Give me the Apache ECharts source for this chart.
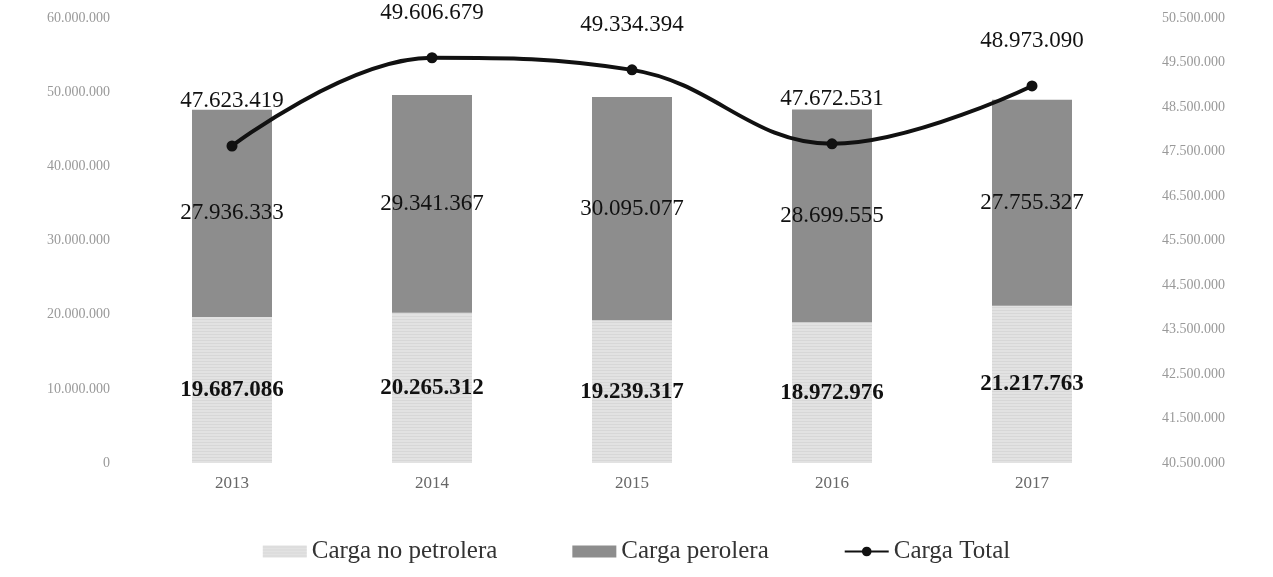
<!DOCTYPE html>
<html><head><meta charset="utf-8">
<script src="https://cdn.jsdelivr.net/npm/echarts@6/dist/echarts.min.js"></script>
<style>html,body{margin:0;padding:0;background:#fff}#c{width:1273px;height:577px}</style>
</head><body><div id="c"></div>
<script>
const categories = ['2013','2014','2015','2016','2017'];
const noPetrolera = [19687086, 20265312, 19239317, 18972976, 21217763];
const petrolera = [27936333, 29341367, 30095077, 28699555, 27755327];
const total = [47623419, 49606679, 49334394, 47672531, 48973090];
const seriesNames = ['Carga no petrolera', 'Carga perolera', 'Carga Total'];

function fmt(v){ return String(Math.round(v)).replace(/\B(?=(\d{3})+(?!\d))/g, '.'); }
const serif = '"Liberation Serif", "DejaVu Serif", serif';

const chart = echarts.init(document.getElementById('c'));
chart.setOption({
  animation: false,
  textStyle: { fontFamily: serif },
  grid: { left: 132, right: 141, top: 18, bottom: 114 },
  legend: {
    bottom: 8, left: 'center', itemGap: 75, itemWidth: 44, itemHeight: 12,
    textStyle: { fontFamily: serif, fontSize: 25, color: '#333' },
    data: [
      { name: seriesNames[0], icon: 'rect' },
      { name: seriesNames[1], icon: 'rect' },
      { name: seriesNames[2] }
    ]
  },
  xAxis: {
    type: 'category', data: categories,
    axisLine: { show: false }, axisTick: { show: false },
    axisLabel: { fontFamily: serif, fontSize: 17, color: '#666', margin: 12 }
  },
  yAxis: [
    { type: 'value', min: 0, max: 60000000, interval: 10000000,
      splitLine: { show: false }, axisLine: { show: false }, axisTick: { show: false },
      axisLabel: { fontFamily: serif, fontSize: 14, color: '#999', margin: 22, formatter: v => fmt(v) } },
    { type: 'value', min: 40500000, max: 50500000, interval: 1000000,
      splitLine: { show: false }, axisLine: { show: false }, axisTick: { show: false },
      axisLabel: { fontFamily: serif, fontSize: 14, color: '#999', margin: 30, formatter: v => fmt(v) } }
  ],
  series: [
    { name: seriesNames[0], type: 'bar', stack: 'c', barWidth: 80, data: noPetrolera,
      itemStyle: { color: '#e2e2e2',
        decal: { symbol: 'circle', symbolSize: 0.6, color: 'rgba(90,90,90,0.35)', dashArrayX: [1, 0], dashArrayY: [3, 0] } },
      label: { show: true, position: 'inside', fontFamily: serif, fontSize: 23, fontWeight: 'bold', color: '#111', formatter: p => fmt(p.value) } },
    { name: seriesNames[1], type: 'bar', stack: 'c', barWidth: 80, data: petrolera,
      itemStyle: { color: '#8d8d8d' },
      label: { show: true, position: 'inside', fontFamily: serif, fontSize: 23, color: '#111', formatter: p => fmt(p.value) } },
    { name: seriesNames[2], type: 'line', yAxisIndex: 1, smooth: 0.4, data: total,
      symbol: 'circle', symbolSize: 11,
      lineStyle: { color: '#111', width: 4 }, itemStyle: { color: '#111' },
      label: { show: true, position: 'top', distance: 28, fontFamily: serif, fontSize: 23, color: '#111', formatter: p => fmt(p.value) } }
  ]
});
</script></body></html>
